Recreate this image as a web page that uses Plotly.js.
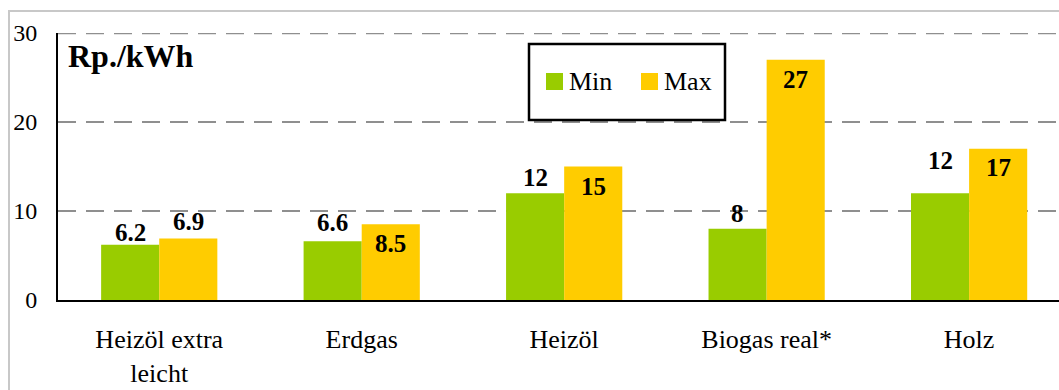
<!DOCTYPE html>
<html>
<head>
<meta charset="utf-8">
<script src="https://cdn.plot.ly/plotly-3.0.1.min.js"></script>
<style>
  html, body { margin: 0; padding: 0; background: #ffffff; overflow: hidden; }
  #wrap { position: relative; width: 1059px; height: 390px; }
  #chart { position: absolute; left: 0; top: 0; width: 1059px; height: 390px; }
  #frame {
    position: absolute; left: 8px; top: 10px; right: -20px; bottom: -20px;
    border-left: 2px solid #c8c8c8; border-top: 2px solid #c8c8c8;
    pointer-events: none;
  }
</style>
</head>
<body>
<div id="wrap">
  <div id="chart"></div>
  <div id="frame"></div>
</div>
<script>
// Energy prices per source, in Rp./kWh
const categories = ['Heizöl extra leicht', 'Erdgas', 'Heizöl', 'Biogas real*', 'Holz'];
const tickLabels = ['Heizöl extra<br>leicht', 'Erdgas', 'Heizöl', 'Biogas real*', 'Holz'];
const seriesNames = ['Min', 'Max'];
const minValues = [6.2, 6.6, 12, 8, 12];
const maxValues = [6.9, 8.5, 15, 27, 17];
const unitLabel = 'Rp./kWh';
const yMax = 30;

const colors = ['#99CC00', '#FFCC00'];
const FONT = "'Liberation Serif', 'Times New Roman', serif";
const GRID = { color: '#8f8f8f', width: 2.5, dash: '18px,10px' };

// Page and plot geometry
const W = 1059, H = 390;
const M = { l: 58, r: 0, t: 33, b: 90 };
const plotW = W - M.l - M.r, plotH = H - M.t - M.b;
const px = v => (v - M.l) / plotW;        // page pixel -> paper x
const py = v => (H - M.b - v) / plotH;    // page pixel -> paper y

const BARGAP = 0.426;
const halfBar = (1 - BARGAP) / 4;         // offset of each bar centre from the category centre

// Vertical nudges (px) of the value labels relative to the bar tops
const minLabelShift = [12, 19, 16, 15, 33];
const maxLabelShift = [17, -19, -20, -20, -19];

const traces = [
  { type: 'bar', name: seriesNames[0], x: categories, y: minValues,
    marker: { color: colors[0] }, showlegend: false, hoverinfo: 'x+y' },
  { type: 'bar', name: seriesNames[1], x: categories, y: maxValues,
    marker: { color: colors[1] }, showlegend: false, hoverinfo: 'x+y' }
];

const annotations = [];
[[minValues, minLabelShift, -halfBar], [maxValues, maxLabelShift, halfBar]].forEach(([vals, shifts, off]) => {
  vals.forEach((v, i) => {
    annotations.push({
      x: i + off, y: v, xref: 'x', yref: 'y',
      text: String(v), showarrow: false,
      xanchor: 'center', yanchor: 'middle', yshift: shifts[i],
      font: { family: FONT, size: 25, color: '#000000', weight: 'bold' }
    });
  });
});

// Unit label in the upper left corner
annotations.push({
  xref: 'paper', yref: 'paper', x: px(66), y: py(56),
  xanchor: 'left', yanchor: 'middle', showarrow: false,
  text: '<b>' + unitLabel + '</b>',
  font: { family: FONT, size: 32, color: '#000000' }
});

const shapes = [
  // grid line along the top of the value range
  { type: 'line', xref: 'paper', yref: 'y', x0: 0, x1: 1, y0: yMax, y1: yMax,
    line: { color: GRID.color, width: GRID.width, dash: GRID.dash }, layer: 'below' },
  // legend frame
  { type: 'rect', xref: 'paper', yref: 'paper',
    x0: px(529), x1: px(725), y0: py(120), y1: py(44),
    line: { color: '#000000', width: 2.5 }, fillcolor: '#ffffff', layer: 'above' }
];
const legendItems = [{ sq: 546, tx: 567 }, { sq: 641, tx: 662 }];
legendItems.forEach((it, k) => {
  shapes.push({ type: 'rect', xref: 'paper', yref: 'paper',
    x0: px(it.sq), x1: px(it.sq + 17), y0: py(90), y1: py(73),
    line: { width: 0 }, fillcolor: colors[k], layer: 'above' });
  annotations.push({ xref: 'paper', yref: 'paper', x: px(it.tx), y: py(81),
    xanchor: 'left', yanchor: 'middle', showarrow: false,
    text: seriesNames[k], font: { family: FONT, size: 26, color: '#000000' } });
});

const layout = {
  width: W, height: H,
  margin: { l: M.l, r: M.r, t: M.t, b: M.b, pad: 0 },
  paper_bgcolor: '#ffffff', plot_bgcolor: '#ffffff',
  barmode: 'group', bargap: BARGAP, bargroupgap: 0,
  showlegend: false,
  font: { family: FONT, color: '#000000' },
  xaxis: {
    type: 'category', range: [-0.5, 4.444],
    tickmode: 'array', tickvals: categories, ticktext: tickLabels,
    tickfont: { family: FONT, size: 26, color: '#000000' },
    showline: true, linecolor: '#000000', linewidth: 2,
    showgrid: false, ticks: '', ticklabelstandoff: 15, fixedrange: true
  },
  yaxis: {
    range: [0, yMax], tickmode: 'linear', tick0: 0, dtick: 10,
    tickfont: { family: FONT, size: 24, color: '#000000' },
    showline: true, linecolor: '#000000', linewidth: 2,
    showgrid: true, gridcolor: GRID.color, gridwidth: GRID.width, griddash: GRID.dash,
    zeroline: false, ticks: '', ticklabelstandoff: 14, fixedrange: true
  },
  shapes: shapes,
  annotations: annotations
};

Plotly.newPlot('chart', traces, layout, { displayModeBar: false, staticPlot: true });
</script>
</body>
</html>
